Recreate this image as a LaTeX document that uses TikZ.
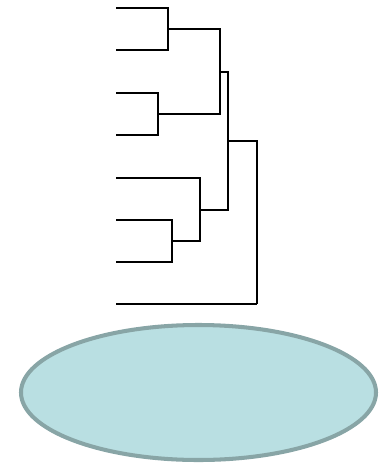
\documentclass[tikz,border=0pt]{standalone}
\usepackage{tikz}
\definecolor{blobfill}{HTML}{B9DFE2}
\definecolor{blobline}{HTML}{88A5A6}

\begin{document}
\begin{tikzpicture}[x=0.02cm,y=-0.02cm]
\useasboundingbox (0,0) rectangle (384,463);

% leaves
\coordinate (l1) at (116,8);
\coordinate (l2) at (116,50);
\coordinate (l3) at (116,93);
\coordinate (l4) at (116,135);
\coordinate (l5) at (116,178);
\coordinate (l6) at (116,220);
\coordinate (l7) at (116,262);
\coordinate (l8) at (116,304);

% joins
\coordinate (j12) at (168,29);
\coordinate (j34) at (158,114);
\coordinate (j1234) at (220,72);
\coordinate (j67) at (172,241);
\coordinate (j567) at (200,210);
\coordinate (j1to7) at (228,141);
\coordinate (jall) at (257,304);

\draw[line width=1.3pt]
(l1) -| (j12)
(l2) -| (j12)
(l3) -| (j34)
(l4) -| (j34)
(j12) -| (j1234)
(j34) -| (j1234);

\draw[line width=1.3pt]
(l6) -| (j67)
(l7) -| (j67)
(l5) -| (j567)
(j67) -| (j567);

\draw[line width=1.3pt]
(j1234) -| (j1to7)
(j567) -| (j1to7)
(j1to7) -| (jall)
(l8) -- (jall);

\draw[blobline,fill=blobfill,line width=2.3pt]
(198.5,392.5) ellipse [x radius=177.5, y radius=67.5];
\end{tikzpicture}
\end{document}
